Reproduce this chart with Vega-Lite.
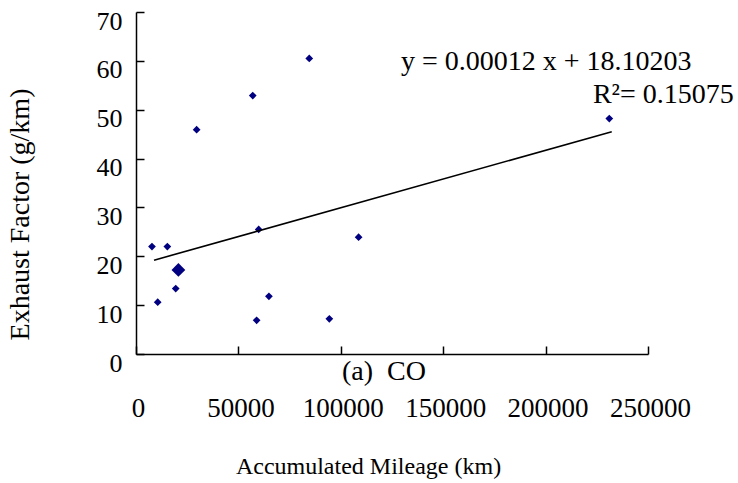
{
  "$schema": "https://vega.github.io/schema/vega-lite/v6.json",
  "width": 512,
  "height": 342,
  "autosize": {"type": "none"},
  "padding": {"left": 136, "top": 12, "right": 90, "bottom": 129},
  "background": "white",
  "config": {"view": {"stroke": null}, "font": "Liberation Serif"},
  "datasets": {
    "points": [
      {"mileage": 7800, "factor": 22.0, "count": 1},
      {"mileage": 15300, "factor": 22.0, "count": 1},
      {"mileage": 10600, "factor": 10.6, "count": 1},
      {"mileage": 20700, "factor": 17.2, "count": 3},
      {"mileage": 19400, "factor": 13.4, "count": 1},
      {"mileage": 29600, "factor": 45.9, "count": 1},
      {"mileage": 57000, "factor": 52.9, "count": 1},
      {"mileage": 59900, "factor": 25.5, "count": 1},
      {"mileage": 58900, "factor": 6.9, "count": 1},
      {"mileage": 64900, "factor": 11.8, "count": 1},
      {"mileage": 84600, "factor": 60.5, "count": 1},
      {"mileage": 94400, "factor": 7.2, "count": 1},
      {"mileage": 108700, "factor": 23.9, "count": 1},
      {"mileage": 231100, "factor": 48.2, "count": 1}
    ],
    "trend": [
      {"mileage": 8800, "factor": 19.2},
      {"mileage": 232300, "factor": 45.5}
    ],
    "notes": [
      {"mileage": 129400, "factor": 58.1, "label": "y = 0.00012 x + 18.10203"},
      {"mileage": 223100, "factor": 51.4, "label": "R²= 0.15075"},
      {"mileage": 100600, "factor": -5.3, "label": "(a)\u00a0\u00a0CO"}
    ]
  },
  "layer": [
    {
      "data": {"name": "points"},
      "mark": {"type": "point", "shape": "diamond", "filled": true, "color": "#000080", "opacity": 1},
      "encoding": {
        "x": {
          "field": "mileage", "type": "quantitative",
          "scale": {"domain": [0, 250000], "nice": false, "zero": false},
          "title": "Accumulated Mileage (km)",
          "axis": {
            "values": [0, 50000, 100000, 150000, 200000, 250000],
            "format": "d", "grid": false, "tickSize": -8, "labelPadding": 49,
            "labelFontSize": 27, "labelColor": "black", "labelFlush": false, "labelOverlap": false,
            "labelOffset": 2,
            "domainColor": "black", "tickColor": "black", "domainWidth": 1.5, "tickWidth": 1.5,
            "titleFontSize": 24, "titleFontWeight": "normal", "titleColor": "black",
            "titleX": 232, "titleY": 119, "titleBaseline": "alphabetic", "titleAlign": "center"
          }
        },
        "y": {
          "field": "factor", "type": "quantitative",
          "scale": {"domain": [0, 70], "nice": false},
          "title": "Exhaust Factor (g/km)",
          "axis": {
            "values": [0, 10, 20, 30, 40, 50, 60, 70],
            "grid": false, "tickSize": -8, "labelPadding": 22, "labelOffset": 9,
            "labelFontSize": 26, "labelColor": "black", "labelOverlap": false, "labelFlush": false,
            "domainColor": "black", "tickColor": "black", "domainWidth": 1.5, "tickWidth": 1.5,
            "titleFontSize": 28, "titleFontWeight": "normal", "titleColor": "black",
            "titleAngle": -90, "titleX": -108, "titleY": 202, "titleBaseline": "alphabetic", "titleAlign": "center"
          }
        },
        "size": {"field": "count", "type": "quantitative", "scale": {"domain": [1, 3], "range": [60, 190]}, "legend": null}
      }
    },
    {
      "data": {"name": "trend"},
      "mark": {"type": "line", "color": "black", "strokeWidth": 1.6},
      "encoding": {
        "x": {"field": "mileage", "type": "quantitative"},
        "y": {"field": "factor", "type": "quantitative"}
      }
    },
    {
      "data": {"name": "notes"},
      "mark": {"type": "text", "align": "left", "baseline": "alphabetic", "fontSize": 28, "font": "Liberation Serif", "color": "black"},
      "encoding": {
        "x": {"field": "mileage", "type": "quantitative"},
        "y": {"field": "factor", "type": "quantitative"},
        "text": {"field": "label"}
      }
    }
  ]
}
